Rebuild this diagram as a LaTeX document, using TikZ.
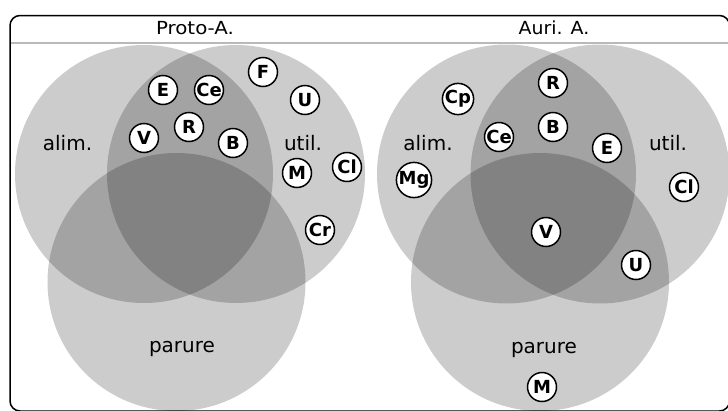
\documentclass[tikz,border=0pt]{standalone}
\usepackage{fontspec}
\usepackage{graphicx}
\setmainfont{DejaVu Sans}
\newfontfamily\lblfont{DejaVu Sans}
\newfontfamily\ttlfont{DejaVu Sans}
\newfontfamily\elemfont{DejaVu Sans Bold}
\begin{document}
\begin{tikzpicture}[x=1pt,y=-1pt,
  setfill/.style={fill=black,fill opacity=0.2},
  elem/.style={circle,draw=black,fill=white,line width=1.5pt,minimum size=29pt,inner sep=0pt,
    font=\fontsize{18}{18}\selectfont\elemfont},
  lbl/.style={anchor=base,inner sep=0pt,font=\fontsize{20}{20}\selectfont\lblfont},
  ttl/.style={anchor=base,inner sep=0pt,font=\fontsize{18}{18}\selectfont\ttlfont}]
\useasboundingbox (0,0) rectangle (728,410);
\clip (0,0) rectangle (728,410);
% left Venn
\fill[setfill] (144,174) circle [radius=129pt];
\fill[setfill] (236,174) circle [radius=129pt];
\fill[setfill] (176.5,282) circle [radius=129pt];
% right Venn
\fill[setfill] (506.5,174) circle [radius=129.5pt];
\fill[setfill] (600,174) circle [radius=129.5pt];
\fill[setfill] (540,282) circle [radius=129pt];
% frame
\draw[line width=1.5pt,rounded corners=10pt] (10,15.5) rectangle (729.5,411);
\draw[line width=2pt,color=gray!55] (10.8,43) -- (728,43);
% titles
\node[ttl] (t1) at (195,34.5) {\scalebox{1.1}[1]{Proto-A.}};
\node[ttl] (t2) at (554,34.5) {\scalebox{1.05}[1]{Auri. A.}};
% labels
\node[lbl] (la1) at (67.5,150) {alim.};
\node[lbl] (lu1) at (303,150) {util.};
\node[lbl] (lp1) at (182,352) {parure};
\node[lbl] (la2) at (428,150) {alim.};
\node[lbl] (lu2) at (668,150) {util.};
\node[lbl] (lp2) at (544,353) {parure};
% left elements
\node[elem] (lE) at (163,90) {E};
\node[elem] (lCe) at (209,90) {Ce};
\node[elem] (lF) at (263,72) {F};
\node[elem] (lU) at (305,100) {U};
\node[elem] (lR) at (189,127) {R};
\node[elem] (lV) at (144,138) {V};
\node[elem] (lB) at (233,143) {B};
\node[elem] (lM) at (297,173) {M};
\node[elem] (lCl) at (347,167) {Cl};
\node[elem] (lCr) at (320,230) {Cr};
% right elements
\node[elem] (rR) at (553,83) {R};
\node[elem] (rCp) at (458,99) {Cp};
\node[elem] (rB) at (553,127) {B};
\node[elem] (rCe) at (499,137) {Ce};
\node[elem] (rE) at (607,148) {E};
\node[elem] (rMg) at (414,180) {Mg};
\node[elem] (rCl) at (684,187) {Cl};
\node[elem] (rV) at (546,232) {V};
\node[elem] (rU) at (636,265) {U};
\node[elem] (rM) at (542,387) {M};
\end{tikzpicture}
\end{document}
